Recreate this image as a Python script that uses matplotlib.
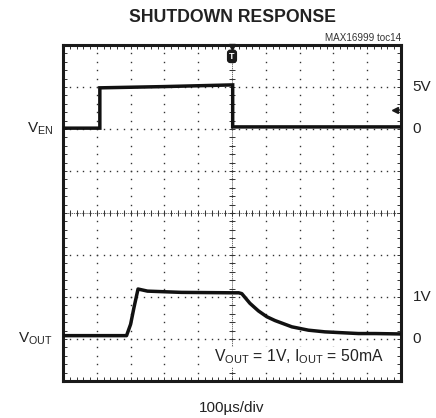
import numpy as np
import matplotlib
matplotlib.use("Agg")
import matplotlib.pyplot as plt

plt.rcParams['font.family'] = ['Liberation Sans', 'DejaVu Sans']
plt.rcParams['mathtext.fontset'] = 'custom'
plt.rcParams['mathtext.rm'] = 'Liberation Sans'
plt.rcParams['mathtext.it'] = 'Liberation Sans'

# ---- data (in scope divisions) ----
ven_t = [0.0, 1.09, 1.09, 3.0, 5.02, 5.02, 10.0]
ven_v = [6.02, 6.02, 6.98, 7.01, 7.05, 6.05, 6.05]

vout_t = [0.0, 1.88, 2.0, 2.1, 2.22, 2.5, 3.5, 5.0, 5.2, 5.29, 5.53, 5.78, 6.03, 6.27,
          6.77, 7.26, 7.75, 8.24, 8.74, 9.23, 10.0]
vout_v = [1.08, 1.08, 1.35, 1.75, 2.19, 2.14, 2.11, 2.1, 2.1, 2.08, 1.85, 1.67, 1.53, 1.44,
          1.29, 1.21, 1.17, 1.15, 1.13, 1.13, 1.12]

n_xdiv = 10
n_ydiv = 8

title = "SHUTDOWN RESPONSE"
tag = "MAX16999 toc14"
xlabel = "100\u00b5s/div"
note = "V$_{\\rm OUT}$ = 1V, I$_{\\rm OUT}$ = 50mA"
left_labels = [("V$_{\\rm EN}$", 6.0), ("V$_{\\rm OUT}$", 1.0)]
right_labels = [("5V", 7.0), ("0", 6.0), ("1V", 2.0), ("0", 1.0)]

W, H = 436, 418
fig = plt.figure(figsize=(W / 100, H / 100), dpi=100)
L, R, T, B = 63, 401, 45, 381
ax = fig.add_axes([L / W, 1 - B / H, (R - L) / W, (B - T) / H])
ax.set_xlim(0, n_xdiv)
ax.set_ylim(0, n_ydiv)

# grid of dots
for k in range(1, n_xdiv):
    ys = np.arange(0, n_ydiv + 0.001, 0.2)
    ax.plot(np.full_like(ys, k), ys, ls='none', marker='s', ms=1.0, color='#333333', mec='none', zorder=1)
for k in range(1, n_ydiv):
    xs = np.arange(0, n_xdiv + 0.001, 0.2)
    ax.plot(xs, np.full_like(xs, k), ls='none', marker='s', ms=1.0, color='#333333', mec='none', zorder=1)

# center crosshair
cx, cy = n_xdiv / 2, n_ydiv / 2
ax.axhline(cy, color='#555555', lw=0.6, ls=(0, (1.5, 1)), zorder=1)
ax.axvline(cx, color='#555555', lw=0.6, ls=(0, (1.5, 1)), zorder=1)
xs = np.arange(0, n_xdiv + 0.001, 0.2)
ax.plot(xs, np.full_like(xs, cy), ls='none', marker='|', ms=4, mew=0.7, color='#333333', zorder=1)
ys = np.arange(0, n_ydiv + 0.001, 0.2)
ax.plot(np.full_like(ys, cx), ys, ls='none', marker='_', ms=4, mew=0.7, color='#333333', zorder=1)

# traces
ax.plot(ven_t, ven_v, color='#111111', lw=2.5, solid_joinstyle='miter', zorder=3)
ax.plot(vout_t, vout_v, color='#111111', lw=2.5, solid_joinstyle='round', zorder=3)

# border & ticks
for s in ax.spines.values():
    s.set_linewidth(2.2)
    s.set_color('#1a1a1a')
ax.set_xticks(np.arange(0, n_xdiv + 0.001, 0.2))
ax.set_yticks(np.arange(0, n_ydiv + 0.001, 0.2))
ax.tick_params(direction='in', length=3, width=0.7, top=True, right=True,
               labelbottom=False, labelleft=False, color='#333333')

# trigger marker
ax.plot([cx], [n_ydiv - 0.04], marker='v', ms=5, color='#1a1a1a', clip_on=False, zorder=5)
ax.text(cx, n_ydiv - 0.27, "T", color='white', fontsize=6.5, fontweight='bold', ha='center', va='center',
        bbox=dict(boxstyle='round,pad=0.18,rounding_size=0.3', fc='#1a1a1a', ec='#1a1a1a'), zorder=6)
# trigger level arrow
ax.plot([9.82], [6.45], marker='<', ms=4.5, color='#1a1a1a', zorder=5)
ax.plot([9.82, 9.95], [6.45, 6.45], color='#1a1a1a', lw=1.2, zorder=5)

# texts
fig.text(232 / W, 1 - 17 / H, title, ha='center', va='center', fontsize=12.7, fontweight='bold', color='#222222')
fig.text(401 / W, 1 - 38 / H, tag, ha='right', va='center', fontsize=7.1, color='#333333')
fig.text(232 / W, 1 - 408 / H, xlabel, ha='center', va='center', fontsize=11, color='#222222')
for lab, yv in left_labels:
    ax.text(-0.3, yv, lab, ha='right', va='center', fontsize=11, color='#222222', clip_on=False)
for lab, yv in right_labels:
    ax.text(10.35, yv, lab, ha='left', va='center', fontsize=11, color='#222222', clip_on=False)
ax.text(9.5, 0.57, note, ha='right', va='center', fontsize=11.3, color='#222222', zorder=4,
        bbox=dict(boxstyle='square,pad=0.05', fc='white', ec='none'))

fig.savefig("out.png", dpi=100)
